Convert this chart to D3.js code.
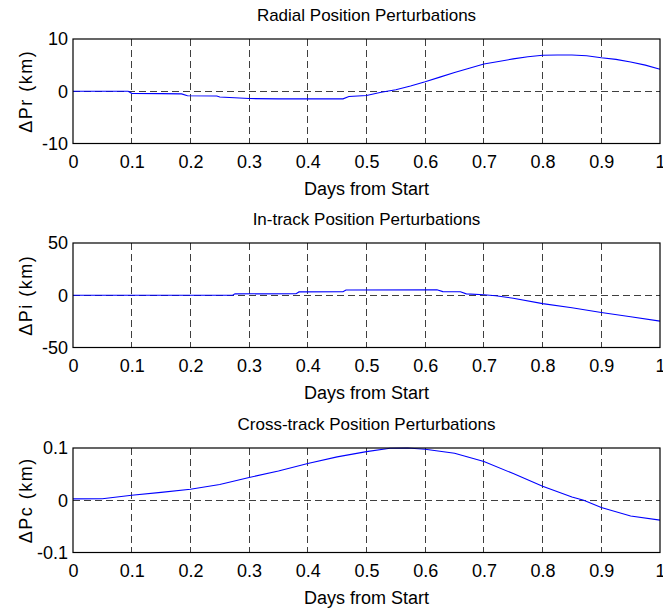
<!DOCTYPE html>
<html>
<head>
<meta charset="utf-8">
<script src="https://cdn.jsdelivr.net/npm/d3@7"></script>
<style>
  html, body { margin: 0; padding: 0; background: #fff; }
  svg { display: block; }
  text { font-family: "Liberation Sans", Arial, sans-serif; fill: #000; }
</style>
</head>
<body>
<svg id="chart" width="663" height="613"></svg>
<script>
// ---- Data ----
const xTicks = [0, 0.1, 0.2, 0.3, 0.4, 0.5, 0.6, 0.7, 0.8, 0.9, 1];
const xTickLabels = ["0", "0.1", "0.2", "0.3", "0.4", "0.5", "0.6", "0.7", "0.8", "0.9", "1"];

const titles = ["Radial Position Perturbations", "In-track Position Perturbations", "Cross-track Position Perturbations"];
const yLabels = ["\u0394Pr (km)", "\u0394Pi (km)", "\u0394Pc (km)"];
const xLabel = "Days from Start";

const radialDomain = [-10, 10];
const radialTicks = [-10, 0, 10];
const radialTickLabels = ["-10", "0", "10"];
const radialDays = [0, 0.05, 0.094, 0.1, 0.15, 0.185, 0.195, 0.245, 0.25, 0.3, 0.35, 0.4, 0.46, 0.47, 0.5, 0.525, 0.55, 0.575, 0.6, 0.625, 0.65, 0.675, 0.7, 0.725, 0.75, 0.775, 0.8, 0.825, 0.85, 0.875, 0.9, 0.925, 0.95, 0.975, 1.0];
const radialVals = [0, 0, 0, -0.4, -0.45, -0.5, -0.85, -0.9, -1.1, -1.4, -1.45, -1.45, -1.45, -1.0, -0.8, -0.2, 0.3, 1.0, 1.8, 2.7, 3.6, 4.4, 5.2, 5.7, 6.2, 6.6, 6.9, 6.95, 6.95, 6.8, 6.4, 6.1, 5.6, 5.0, 4.2];

const inTrackDomain = [-50, 50];
const inTrackTicks = [-50, 0, 50];
const inTrackTickLabels = ["-50", "0", "50"];
const inTrackDays = [0, 0.1, 0.2, 0.272, 0.276, 0.38, 0.385, 0.46, 0.465, 0.62, 0.63, 0.66, 0.67, 0.7, 0.72, 0.75, 0.8, 0.85, 0.9, 0.95, 1.0];
const inTrackVals = [0, 0, 0, 0, 1.3, 1.5, 3.2, 3.4, 5.0, 5.2, 3.5, 3.3, 1.3, 0.5, -0.5, -2.8, -8.0, -12.0, -16.5, -20.5, -24.8];

const crossDomain = [-0.1, 0.1];
const crossTicks = [-0.1, 0, 0.1];
const crossTickLabels = ["-0.1", "0", "0.1"];
const crossDays = [0, 0.05, 0.1, 0.15, 0.2, 0.25, 0.3, 0.35, 0.4, 0.45, 0.5, 0.54, 0.57, 0.6, 0.65, 0.7, 0.75, 0.8, 0.85, 0.87, 0.9, 0.95, 1.0];
const crossVals = [0.0026, 0.003, 0.0096, 0.015, 0.021, 0.030, 0.0436, 0.056, 0.0705, 0.083, 0.093, 0.0995, 0.1, 0.0975, 0.09, 0.074, 0.051, 0.027, 0.0064, 0.0, -0.014, -0.030, -0.038];

// ---- Layout ----
const svg = d3.select("#chart");
const left = 73, right = 660;
const panelTops = [39, 243, 448];
const panelH = 104.5;

const panels = [
  { title: titles[0], ylab: yLabels[0], domain: radialDomain, ticks: radialTicks, tickLabels: radialTickLabels, xs: radialDays, ys: radialVals },
  { title: titles[1], ylab: yLabels[1], domain: inTrackDomain, ticks: inTrackTicks, tickLabels: inTrackTickLabels, xs: inTrackDays, ys: inTrackVals },
  { title: titles[2], ylab: yLabels[2], domain: crossDomain, ticks: crossTicks, tickLabels: crossTickLabels, xs: crossDays, ys: crossVals }
];

const x = d3.scaleLinear().domain([0, 1]).range([left, right]);

panels.forEach((p, i) => {
  const top = panelTops[i], bottom = top + panelH;
  const y = d3.scaleLinear().domain(p.domain).range([bottom, top]);
  const g = svg.append("g");

  // grid
  g.append("g").selectAll("line.vg").data(xTicks.slice(1, -1)).join("line")
    .attr("x1", d => x(d)).attr("x2", d => x(d))
    .attr("y1", top).attr("y2", bottom)
    .attr("stroke", "#000").attr("stroke-width", 1).attr("stroke-dasharray", "7,4")
    .attr("shape-rendering", "crispEdges").attr("opacity", 0.75);
  g.append("g").selectAll("line.hg").data(p.ticks.slice(1, -1)).join("line")
    .attr("x1", left).attr("x2", right)
    .attr("y1", d => y(d)).attr("y2", d => y(d))
    .attr("stroke", "#000").attr("stroke-width", 1).attr("stroke-dasharray", "7,4")
    .attr("shape-rendering", "crispEdges").attr("opacity", 0.75);

  // data line
  const pts = p.xs.map((d, k) => [d, p.ys[k]]);
  g.append("path").datum(pts)
    .attr("fill", "none").attr("stroke", "#0000ff").attr("stroke-width", 1.1)
    .attr("d", d3.line().x(d => x(d[0])).y(d => y(d[1])));

  // frame
  g.append("rect").attr("x", left).attr("y", top).attr("width", right - left).attr("height", panelH)
    .attr("fill", "none").attr("stroke", "#000").attr("stroke-width", 1.2);

  // x axis
  const xAxis = d3.axisBottom(x).tickValues(xTicks).tickFormat((d, k) => xTickLabels[k]).tickSize(0).tickPadding(12);
  const xa = g.append("g").attr("transform", `translate(0,${bottom})`).call(xAxis);
  xa.select(".domain").remove();
  xa.selectAll("text").attr("font-size", 18).attr("font-family", "Liberation Sans, Arial, sans-serif").attr("fill", "#000");

  // y axis
  const yAxis = d3.axisLeft(y).tickValues(p.ticks).tickFormat((d, k) => p.tickLabels[k]).tickSize(0).tickPadding(5);
  const ya = g.append("g").attr("transform", `translate(${left},0)`).call(yAxis);
  ya.select(".domain").remove();
  ya.selectAll("text").attr("font-size", 18).attr("font-family", "Liberation Sans, Arial, sans-serif").attr("fill", "#000");

  // title
  g.append("text").attr("x", (left + right) / 2).attr("y", top - 18)
    .attr("text-anchor", "middle").attr("font-size", 17).text(p.title);

  // x label
  g.append("text").attr("x", (left + right) / 2).attr("y", bottom + 51)
    .attr("text-anchor", "middle").attr("font-size", 18).text(xLabel);

  // y label
  g.append("text").attr("transform", `translate(${left - 41},${(top + bottom) / 2}) rotate(-90)`)
    .attr("text-anchor", "middle").attr("font-size", 18).attr("letter-spacing", 1.5).text(p.ylab);
});
</script>
</body>
</html>
